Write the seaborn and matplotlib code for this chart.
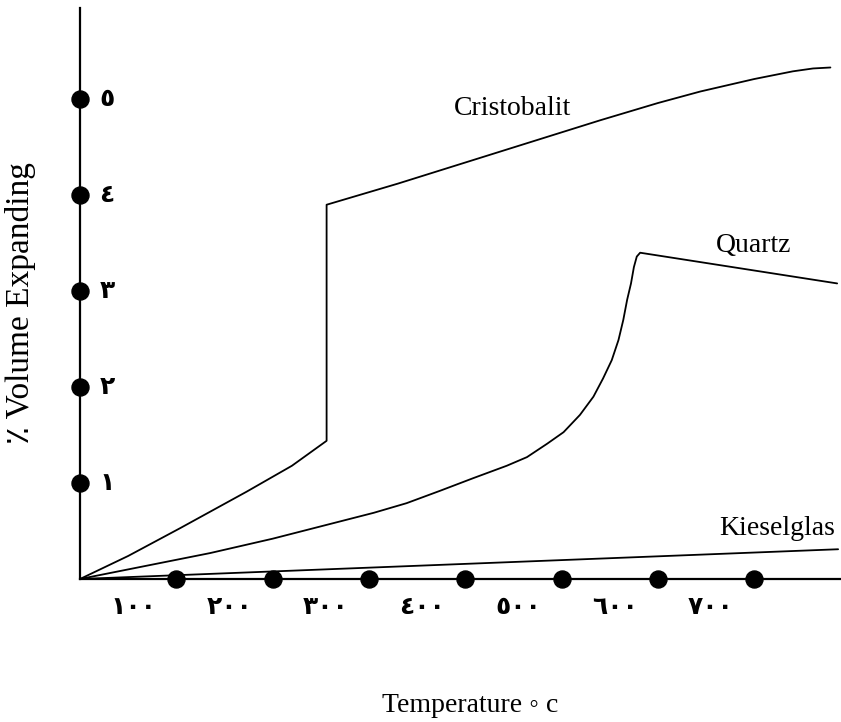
import numpy as np
import pandas as pd
import matplotlib.pyplot as plt
import seaborn as sns

# curves (temperature in C, % volume expansion)
cristobalit_t = [0, 50, 104, 173, 220, 256, 256, 330, 400, 470, 540, 600, 644, 700, 740, 761, 779]
cristobalit_v = [0, 0.24, 0.53, 0.91, 1.18, 1.44, 3.90, 4.12, 4.34, 4.56, 4.78, 4.96, 5.08, 5.21, 5.29, 5.32, 5.33]

quartz_t = [0, 70, 135, 200, 270, 305, 339, 374, 408, 443, 464, 485, 502, 519, 533,
            543, 552, 559, 564, 568, 572, 575, 578, 581.5, 786]
quartz_v = [0, 0.14, 0.27, 0.42, 0.60, 0.69, 0.79, 0.92, 1.05, 1.18, 1.27, 1.41, 1.53, 1.71, 1.90,
            2.09, 2.28, 2.49, 2.70, 2.91, 3.08, 3.25, 3.36, 3.40, 3.08]

kieselglas_t = [0, 787]
kieselglas_v = [0, 0.31]

x_ticks = [100, 200, 300, 400, 500, 600, 700]
x_tick_labels = ["١٠٠", "٢٠٠", "٣٠٠", "٤٠٠", "٥٠٠", "٦٠٠", "٧٠٠"]
y_ticks = [1, 2, 3, 4, 5]
y_tick_labels = ["١", "٢", "٣", "٤", "٥"]

sns.set_style("white")
plt.rcParams["font.family"] = ["Liberation Serif", "DejaVu Sans"]
plt.rcParams["text.color"] = "black"

fig = plt.figure(figsize=(8.41, 7.22), dpi=100)
ax = fig.add_axes([80 / 841, (722 - 579) / 722, 761 / 841, 571 / 722])

for t, v in [(cristobalit_t, cristobalit_v), (quartz_t, quartz_v), (kieselglas_t, kieselglas_v)]:
    df = pd.DataFrame({"t": t, "v": v})
    sns.lineplot(data=df, x="t", y="v", color="black", linewidth=1.3,
                 sort=False, estimator=None, ax=ax)

ax.set_xlim(0, 790)
ax.set_ylim(0, 5.95)
for s in ["top", "right"]:
    ax.spines[s].set_visible(False)
for s in ["left", "bottom"]:
    ax.spines[s].set_color("black")
    ax.spines[s].set_linewidth(1.6)
ax.set_xticks([])
ax.set_yticks([])
ax.set_xlabel("")
ax.set_ylabel("")

# dots on the axes
ax.scatter(x_ticks, [0] * len(x_ticks), s=150, color="black", clip_on=False, zorder=5)
ax.scatter([0] * len(y_ticks), y_ticks, s=150, color="black", clip_on=False, zorder=5)

# tick labels (Arabic-Indic digits)
for x, lab in zip(x_ticks, x_tick_labels):
    ax.text(x - 45, -0.29, lab, ha="center", va="center", fontsize=18,
            fontweight="bold", family=["DejaVu Sans"])
for y, lab in zip(y_ticks, y_tick_labels):
    ax.text(20, y, lab, ha="left", va="center", fontsize=18,
            fontweight="bold", family=["DejaVu Sans"])

# curve names
ax.text(449, 4.9, "Cristobalit", ha="center", va="center", fontsize=20)
ax.text(699, 3.48, "Quartz", ha="center", va="center", fontsize=20)
ax.text(724, 0.53, "Kieselglas", ha="center", va="center", fontsize=20)

fig.text(470 / 841, 1 - 705 / 722, "Temperature ◦ c", ha="center", va="center", fontsize=20)
fig.text(21 / 841, 1 - 303 / 722, "٪ Volume Expanding", ha="center", va="center",
         rotation=90, fontsize=24)

fig.savefig("out.png", dpi=100)
